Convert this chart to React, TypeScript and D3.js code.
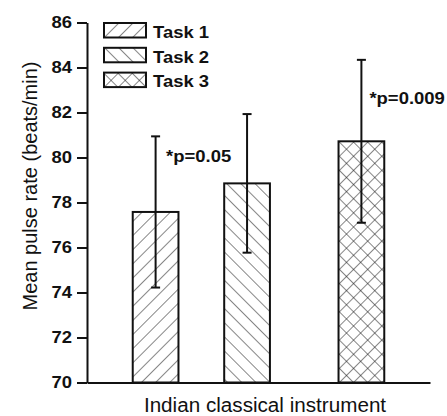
import * as d3 from 'd3';
import { useEffect, useRef } from 'react';

const tasks = ['Task 1', 'Task 2', 'Task 3'];
const means = [77.58, 78.85, 80.72];
const sds = [3.36, 3.08, 3.62];
const xPos = [0.6, 1.4, 2.4];
const pLabels = ['', '*p=0.05', '*p=0.009'];
const yTicks = [70, 72, 74, 76, 78, 80, 82, 84, 86];

const FONT = '"Liberation Sans", Arial, sans-serif';
const SX = 1.12; // source image text is a bit wider than tall

export default function App() {
    const ref = useRef<SVGSVGElement | null>(null);

    useEffect(() => {
        if (!ref.current) return;
        const svg = d3.select(ref.current);
        svg.selectAll('*').remove();

        const width = 447;
        const height = 416;
        const margin = { top: 22.5, right: 17, bottom: 33.5, left: 87 };

        const y = d3.scaleLinear().domain([70, 86]).range([height - margin.bottom, margin.top]);
        const x = d3.scaleLinear().domain([0, 3]).range([margin.left, width - margin.right]);
        const barW = x(0.4) - x(0);

        // hatch patterns
        const defs = svg.append('defs');
        const mk = (id: string, angle: number, cross: boolean) => {
            const p = defs
                .append('pattern')
                .attr('id', id)
                .attr('patternUnits', 'userSpaceOnUse')
                .attr('width', 10)
                .attr('height', 10)
                .attr('patternTransform', `rotate(${angle})`);
            p.append('rect').attr('width', 10).attr('height', 10).attr('fill', '#fff');
            p.append('line').attr('x1', 0).attr('y1', 0).attr('x2', 0).attr('y2', 10)
                .attr('stroke', '#222').attr('stroke-width', 1.1);
            if (cross) {
                p.append('line').attr('x1', 0).attr('y1', 0).attr('x2', 10).attr('y2', 0)
                    .attr('stroke', '#222').attr('stroke-width', 1.1);
            }
        };
        mk('h0', 45, false);
        mk('h1', -45, false);
        mk('h2', 45, true);

        const g = svg.append('g');

        // bars
        g.selectAll('rect.bar')
            .data(tasks)
            .join('rect')
            .attr('class', 'bar')
            .attr('x', (_, i) => x(xPos[i]) - barW / 2)
            .attr('y', (_, i) => y(means[i]))
            .attr('width', barW)
            .attr('height', (_, i) => y(70) - y(means[i]))
            .attr('fill', (_, i) => `url(#h${i})`)
            .attr('stroke', '#111')
            .attr('stroke-width', 2);

        // error bars
        const eb = g.selectAll('g.eb').data(tasks).join('g').attr('class', 'eb');
        eb.append('line')
            .attr('x1', (_, i) => x(xPos[i]))
            .attr('x2', (_, i) => x(xPos[i]))
            .attr('y1', (_, i) => y(means[i] - sds[i]))
            .attr('y2', (_, i) => y(means[i] + sds[i]))
            .attr('stroke', '#111')
            .attr('stroke-width', 2);
        [1, -1].forEach((s) => {
            eb.append('line')
                .attr('x1', (_, i) => x(xPos[i]) - 4.5)
                .attr('x2', (_, i) => x(xPos[i]) + 4.5)
                .attr('y1', (_, i) => y(means[i] + s * sds[i]))
                .attr('y2', (_, i) => y(means[i] + s * sds[i]))
                .attr('stroke', '#111')
                .attr('stroke-width', 2);
        });

        // p-value labels
        const pAnchor = [
            { dx: 0, v: 0 },
            { dx: -81, v: 79.8 },
            { dx: 8, v: 82.4 },
        ];
        g.selectAll('text.p')
            .data(pLabels)
            .join('text')
            .attr('class', 'p')
            .attr('transform', (_, i) => `translate(${x(xPos[i]) + pAnchor[i].dx},${y(pAnchor[i].v)}) scale(${SX},1)`)
            .attr('font-family', FONT)
            .attr('font-weight', 'bold')
            .attr('font-size', 16.5)
            .attr('fill', '#111')
            .text((d) => d);

        // axes
        svg.append('g')
            .attr('transform', `translate(${margin.left},0)`)
            .call(d3.axisLeft(y).tickValues(yTicks).tickFormat(d3.format('d')).tickSize(10).tickSizeOuter(0).tickPadding(5))
            .call((a) => a.selectAll('line, path').attr('stroke', '#111').attr('stroke-width', 2))
            .call((a) =>
                a.selectAll('text')
                    .attr('x', -15 / SX)
                    .attr('transform', `scale(${SX},1)`)
                    .attr('font-family', FONT)
                    .attr('font-weight', 'bold')
                    .attr('font-size', 16.5)
                    .attr('fill', '#111'),
            );

        svg.append('g')
            .attr('transform', `translate(0,${y(70)})`)
            .call(d3.axisBottom(x).tickValues([]).tickSizeOuter(0))
            .call((a) => a.select('.domain').attr('stroke', '#111').attr('stroke-width', 2));

        // legend
        const leg = svg.append('g').attr('transform', 'translate(104,23)');
        const item = leg.selectAll('g').data(tasks).join('g').attr('transform', (_, i) => `translate(0,${i * 24.8})`);
        item.append('rect')
            .attr('width', 42)
            .attr('height', 14.5)
            .attr('fill', (_, i) => `url(#h${i})`)
            .attr('stroke', '#111')
            .attr('stroke-width', 2);
        item.append('text')
            .attr('transform', `translate(49,14.8) scale(${SX},1)`)
            .attr('font-family', FONT)
            .attr('font-weight', 'bold')
            .attr('font-size', 16.5)
            .attr('fill', '#111')
            .text((d) => d);

        // axis titles
        svg.append('text')
            .attr('transform', `translate(37,186) rotate(-90)`)
            .attr('text-anchor', 'middle')
            .attr('font-family', FONT)
            .attr('font-size', 20)
            .attr('fill', '#111')
            .text('Mean pulse rate (beats/min)');

        svg.append('text')
            .attr('transform', `translate(265,412) scale(1.06,1)`)
            .attr('text-anchor', 'middle')
            .attr('font-family', FONT)
            .attr('font-size', 19.5)
            .attr('fill', '#111')
            .text('Indian classical instrument');
    }, []);

    return (
        <svg
            ref={ref}
            width={447}
            height={416}
            style={{ position: 'absolute', left: 0, top: 0, background: '#fff' }}
        />
    );
}
